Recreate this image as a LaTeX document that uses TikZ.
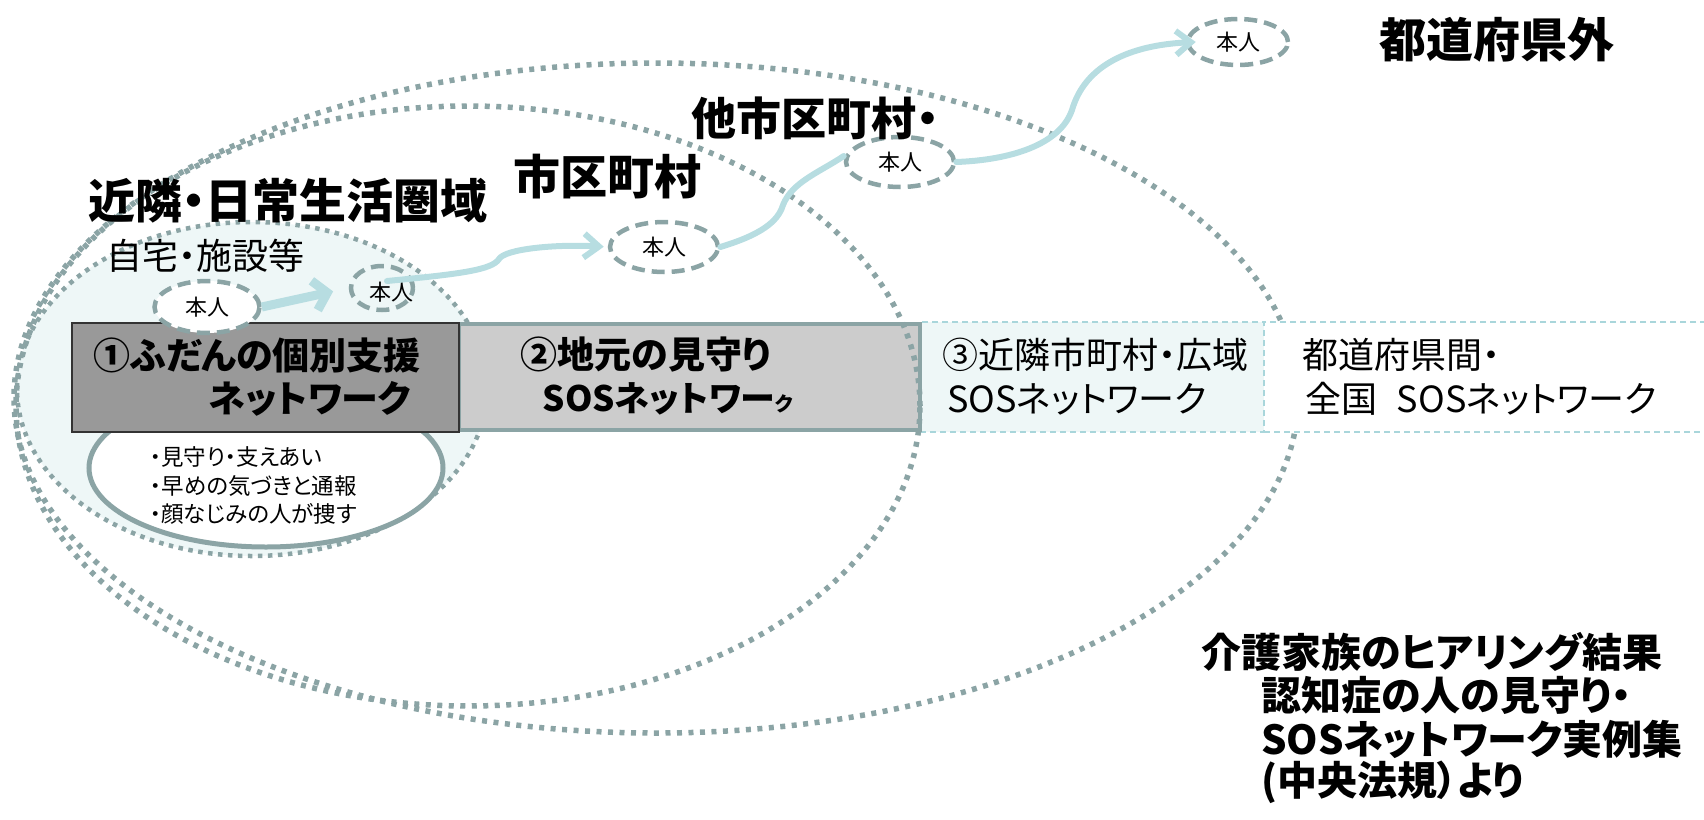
\documentclass[tikz,border=0pt]{standalone}
\usepackage{fontspec}
\setmainfont{Noto Sans CJK JP}[RawFeature={+palt}]
\usetikzlibrary{arrows.meta,shapes.geometric}
\definecolor{dotgray}{HTML}{8BA4A5}
\definecolor{curveblue}{HTML}{B7DDE1}
\definecolor{lightfill}{HTML}{EEF7F7}
\definecolor{boxdash}{HTML}{A9D6DB}
\definecolor{darkbox}{HTML}{999999}
\definecolor{midbox}{HTML}{CCCCCC}
\newcommand\fsz[1]{\fontsize{#1pt}{#1pt}\selectfont}
\begin{document}
\begin{tikzpicture}[x=1pt,y=-1pt,
  region/.style={ellipse, inner sep=0pt, draw=dotgray, line width=5.5pt, dash pattern=on 5pt off 6.5pt},
  honnin/.style={ellipse, inner sep=0pt, draw=dotgray, line width=4.5pt, dash pattern=on 13pt off 7pt, font=\fsz{22}},
  flow/.style={draw=curveblue, line width=6pt, line cap=round},
  tipc/.style={-{Straight Barb[length=15pt,width=24pt]}},
  netbox/.style={rectangle, inner sep=0pt},
  head/.style={inner sep=0pt, font=\bfseries\fsz{47}},
  boxbold/.style={inner sep=0pt, font=\bfseries\fsz{37}},
  boxreg/.style={inner sep=0pt, font=\fsz{36}},
  src/.style={inner sep=0pt, anchor=west, font=\bfseries\fsz{40}},
  small/.style={inner sep=0pt, font=\fsz{22}},
  wline/.style={inner sep=0pt, anchor=west, font=\fsz{22.5}}
]
\useasboundingbox (0,0) rectangle (1704,819);

% light neighbourhood area and the watch ellipse
\node[ellipse, inner sep=0pt, minimum width=470, minimum height=334, fill=lightfill,
  draw=dotgray, line width=4.5pt, dash pattern=on 4.5pt off 5.5pt] (nearE) at (252,389) {};
\node[ellipse, inner sep=0pt, minimum width=354, minimum height=158, fill=white,
  draw=dotgray, line width=5pt] (watchE) at (266,468) {};

% outer region
\node[region, minimum width=1284, minimum height=670] (outerE) at (656,398) {};

% boxes
\node[netbox, minimum width=344, minimum height=110, fill=lightfill, draw=boxdash,
  line width=1.5pt, dash pattern=on 6pt off 4pt] (b3) at (1092,377) {};
\node[netbox, minimum width=456, minimum height=110, fill=white, draw=boxdash,
  line width=1.5pt, dash pattern=on 6pt off 4pt] (b4) at (1492,377) {};
\node[netbox, minimum width=461, minimum height=106, fill=midbox, draw=dotgray,
  line width=4pt] (b2) at (689.5,376.5) {};
\node[netbox, minimum width=387, minimum height=109, fill=darkbox, draw=black!80,
  line width=2pt] (b1) at (265.5,377.5) {};

% city region
\node[region, minimum width=904, minimum height=600] (cityE) at (468,406) {};

% persons
\node[honnin, minimum width=100, minimum height=46, fill=white] (eTop) at (1238,42) {本人};
\node[honnin, minimum width=108, minimum height=50, fill=white] (e2) at (900,162) {本人};
\node[honnin, minimum width=108, minimum height=50, fill=white] (e3) at (664,247) {本人};
\node[honnin, minimum width=105, minimum height=52, fill=white] (e4) at (207,307) {本人};
\node[honnin, minimum width=62, minimum height=44] (e5) at (382,288) {};
\node[small] (t5) at (391,292) {本人};

% flows
\draw[draw=curveblue, line width=9pt, -{Straight Barb[length=13pt,width=30pt]}, shorten >=16pt]
  (e4.east) -- (e5.west);
\draw[flow, tipc, shorten >=4pt]
  ([shift={(5,-7)}]e5.center) .. controls (460,274) and (492,270) .. (499,259)
  .. controls (505,249) and (555,244) .. (e3.west);
\draw[flow]
  (e3.east) .. controls (760,235) and (778,222) .. (783,205)
  .. controls (792,182) and (820,172) .. ([yshift=6]e2.west);
\draw[flow, tipc]
  (e2.east) .. controls (1010,160) and (1060,145) .. (1072,110)
  .. controls (1085,65) and (1130,45) .. ([xshift=10]eTop.west);

% headings
\node[head] (hOut) at (1497,40) {都道府県外};
\node[head, font=\bfseries\fsz{45}] (hOther) at (815,118) {他市区町村・};
\node[head] (hCity) at (607,177) {市区町村};
\node[head] (hNear) at (288,201) {近隣・日常生活圏域};
\node[inner sep=0pt, font=\fsz{36}] (hHome) at (205,256) {自宅・施設等};

% box texts
\node[boxbold] (b1a) at (257,355) {①ふだんの個別支援};
\node[boxbold] (b1b) at (310,399) {ネットワーク};
\node[boxbold] (b2a) at (646,355) {②地元の見守り};
\node[boxbold, font=\bfseries\fsz{35}] (b2b) at (668,399) {SOSネットワー{\fsz{20}ク}};
\node[boxreg] (b3a) at (1095,355) {③近隣市町村・広域};
\node[boxreg] (b3b) at (1077,399) {SOSネットワーク};
\node[boxreg] (b4a) at (1401,355) {都道府県間・};
\node[boxreg] (b4b) at (1481,399) {全国\hspace{0.55em}SOSネットワーク};

% watch text
\node[wline] (w1) at (150,457) {・見守り・支えあい};
\node[wline] (w2) at (150,486) {・早めの気づきと通報};
\node[wline] (w3) at (150,514) {・顔なじみの人が捜す};

% source
\node[src] (s1) at (1201,652) {介護家族のヒアリング結果};
\node[src] (s2) at (1261,695) {認知症の人の見守り・};
\node[src] (s3) at (1261,739) {SOSネットワーク実例集};
\node[src] (s4) at (1261,782) {(中央法規）より};
\end{tikzpicture}
\end{document}
